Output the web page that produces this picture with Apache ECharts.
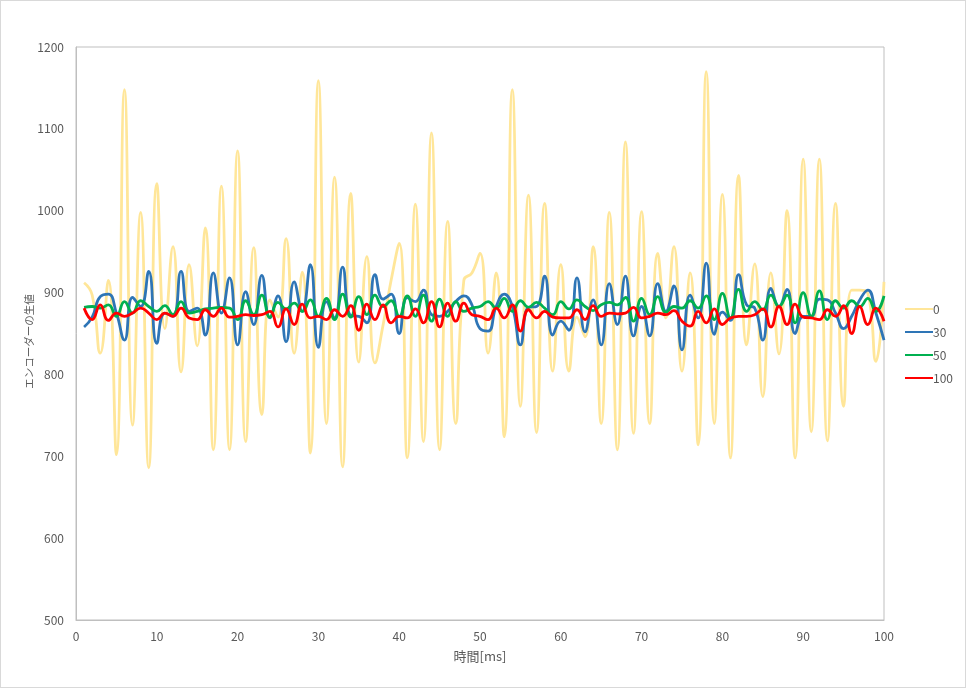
<!DOCTYPE html>
<html>
<head>
<meta charset="utf-8">
<script src="https://cdn.jsdelivr.net/npm/echarts@6/dist/echarts.min.js"></script>
<style>
  html, body { margin: 0; padding: 0; background: #fff; }
  #chart { width: 966px; height: 688px; box-sizing: border-box; border: 1px solid #d9d9d9; }
</style>
</head>
<body>
<div id="chart"></div>
<script>
// 時間 [ms] 1..100
const times = Array.from({ length: 100 }, (_, i) => i + 1)

const names = ['0', '30', '50', '100']

const s0 = [
  912, 897, 826, 915, 702, 1148, 738, 998, 686, 1033,
  856, 956, 803, 934, 835, 979, 708, 1030, 708, 1073,
  718, 955, 751, 891, 870, 966, 826, 925, 704, 1159,
  740, 1041, 687, 1021, 815, 944, 814, 860, 915, 960,
  698, 1008, 718, 1095, 708, 987, 740, 915, 924, 948,
  826, 924, 724, 1148, 761, 1019, 729, 1009, 804, 934,
  804, 870, 846, 956, 740, 998, 708, 1084, 728, 999,
  740, 948, 869, 956, 804, 924, 714, 1170, 740, 1020,
  698, 1043, 836, 935, 773, 924, 825, 1000, 698, 1063,
  730, 1063, 719, 1009, 761, 903, 903, 899, 816, 913
]

const s30 = [
  858, 870, 895, 898, 875, 842, 894, 883, 926, 838,
  875, 871, 926, 877, 881, 848, 924, 875, 918, 836,
  901, 861, 921, 869, 896, 840, 913, 877, 934, 833,
  889, 869, 931, 872, 871, 863, 922, 892, 898, 850,
  894, 889, 903, 873, 871, 877, 889, 896, 885, 856,
  853, 883, 898, 883, 836, 882, 883, 920, 848, 865,
  854, 918, 852, 891, 836, 911, 861, 920, 847, 883,
  847, 911, 877, 908, 830, 897, 869, 936, 849, 876,
  866, 922, 885, 881, 842, 905, 883, 904, 850, 871,
  871, 892, 891, 875, 856, 871, 891, 903, 875, 842
]

const s50 = [
  882, 883, 881, 885, 871, 889, 875, 890, 883, 877,
  884, 873, 889, 875, 877, 880, 881, 882, 881, 867,
  890, 873, 897, 870, 888, 880, 887, 877, 891, 871,
  893, 867, 898, 870, 895, 873, 897, 883, 890, 871,
  896, 871, 897, 865, 892, 871, 889, 877, 881, 883,
  889, 881, 893, 877, 890, 882, 888, 881, 873, 889,
  880, 891, 883, 878, 885, 888, 885, 894, 865, 893,
  873, 895, 876, 883, 881, 890, 881, 896, 867, 899,
  869, 904, 877, 889, 879, 897, 883, 897, 863, 900,
  871, 902, 867, 890, 881, 890, 883, 893, 877, 896
]

const s100 = [
  881, 867, 885, 866, 875, 871, 875, 881, 875, 867,
  875, 871, 881, 869, 867, 879, 871, 881, 870, 871,
  873, 872, 873, 877, 858, 880, 861, 886, 869, 871,
  867, 879, 871, 884, 854, 886, 867, 885, 863, 871,
  869, 880, 863, 889, 858, 887, 865, 887, 873, 871,
  867, 881, 869, 885, 853, 879, 869, 877, 870, 869,
  869, 879, 867, 884, 871, 875, 874, 875, 882, 869,
  871, 875, 873, 878, 865, 859, 877, 863, 880, 861,
  869, 871, 871, 873, 880, 858, 883, 861, 886, 870,
  869, 867, 879, 871, 884, 850, 883, 861, 881, 865
]

const colors = ['#FFE699', '#2E75B6', '#00B050', '#FF0000']
const font = '"Noto Sans CJK JP", sans-serif'

const chart = echarts.init(document.getElementById('chart'))

const makeSeries = (name, values, color) => ({
  name: name,
  type: 'line',
  smooth: 0.5,
  symbol: 'none',
  data: times.map((t, i) => [t, values[i]]),
  lineStyle: { color: color, width: 2.8 },
  itemStyle: { color: color, opacity: 0 }
})

chart.setOption({
  backgroundColor: '#fff',
  animation: false,
  textStyle: { fontFamily: font },
  grid: {
    left: 75, top: 46, width: 808, height: 573,
    show: true, borderColor: '#BFBFBF', borderWidth: 1
  },
  legend: {
    orient: 'vertical',
    left: 903, top: 302,
    padding: 0,
    itemWidth: 28, itemHeight: 14, itemGap: 11,
    itemStyle: { opacity: 0, borderWidth: 0 },
    textStyle: { color: '#595959', fontSize: 12, fontFamily: font, padding: [0, 0, 0, -5] },
    data: names
  },
  xAxis: {
    type: 'value',
    min: 0, max: 100, interval: 10,
    name: '時間[ms]',
    nameLocation: 'middle',
    nameGap: 30,
    nameTextStyle: { color: '#595959', fontSize: 13, fontFamily: font },
    axisLine: { lineStyle: { color: '#BFBFBF' } },
    axisTick: { show: false },
    splitLine: { show: false },
    axisLabel: { color: '#595959', fontSize: 12, margin: 10 }
  },
  yAxis: {
    type: 'value',
    min: 500, max: 1200, interval: 100,
    name: 'エンコーダーの生値',
    nameLocation: 'middle',
    nameRotate: 90,
    nameGap: 42,
    nameMoveOverlap: false,
    nameTextStyle: { color: '#595959', fontSize: 10.5, fontFamily: font, padding: [0, 0, 0, -16] },
    axisLine: { show: true, lineStyle: { color: '#BFBFBF' } },
    axisTick: { show: false },
    splitLine: { show: false },
    axisLabel: { color: '#595959', fontSize: 12, margin: 12, formatter: v => String(v) }
  },
  series: [
    makeSeries(names[0], s0, colors[0]),
    makeSeries(names[1], s30, colors[1]),
    makeSeries(names[2], s50, colors[2]),
    makeSeries(names[3], s100, colors[3])
  ]
})
</script>
</body>
</html>
